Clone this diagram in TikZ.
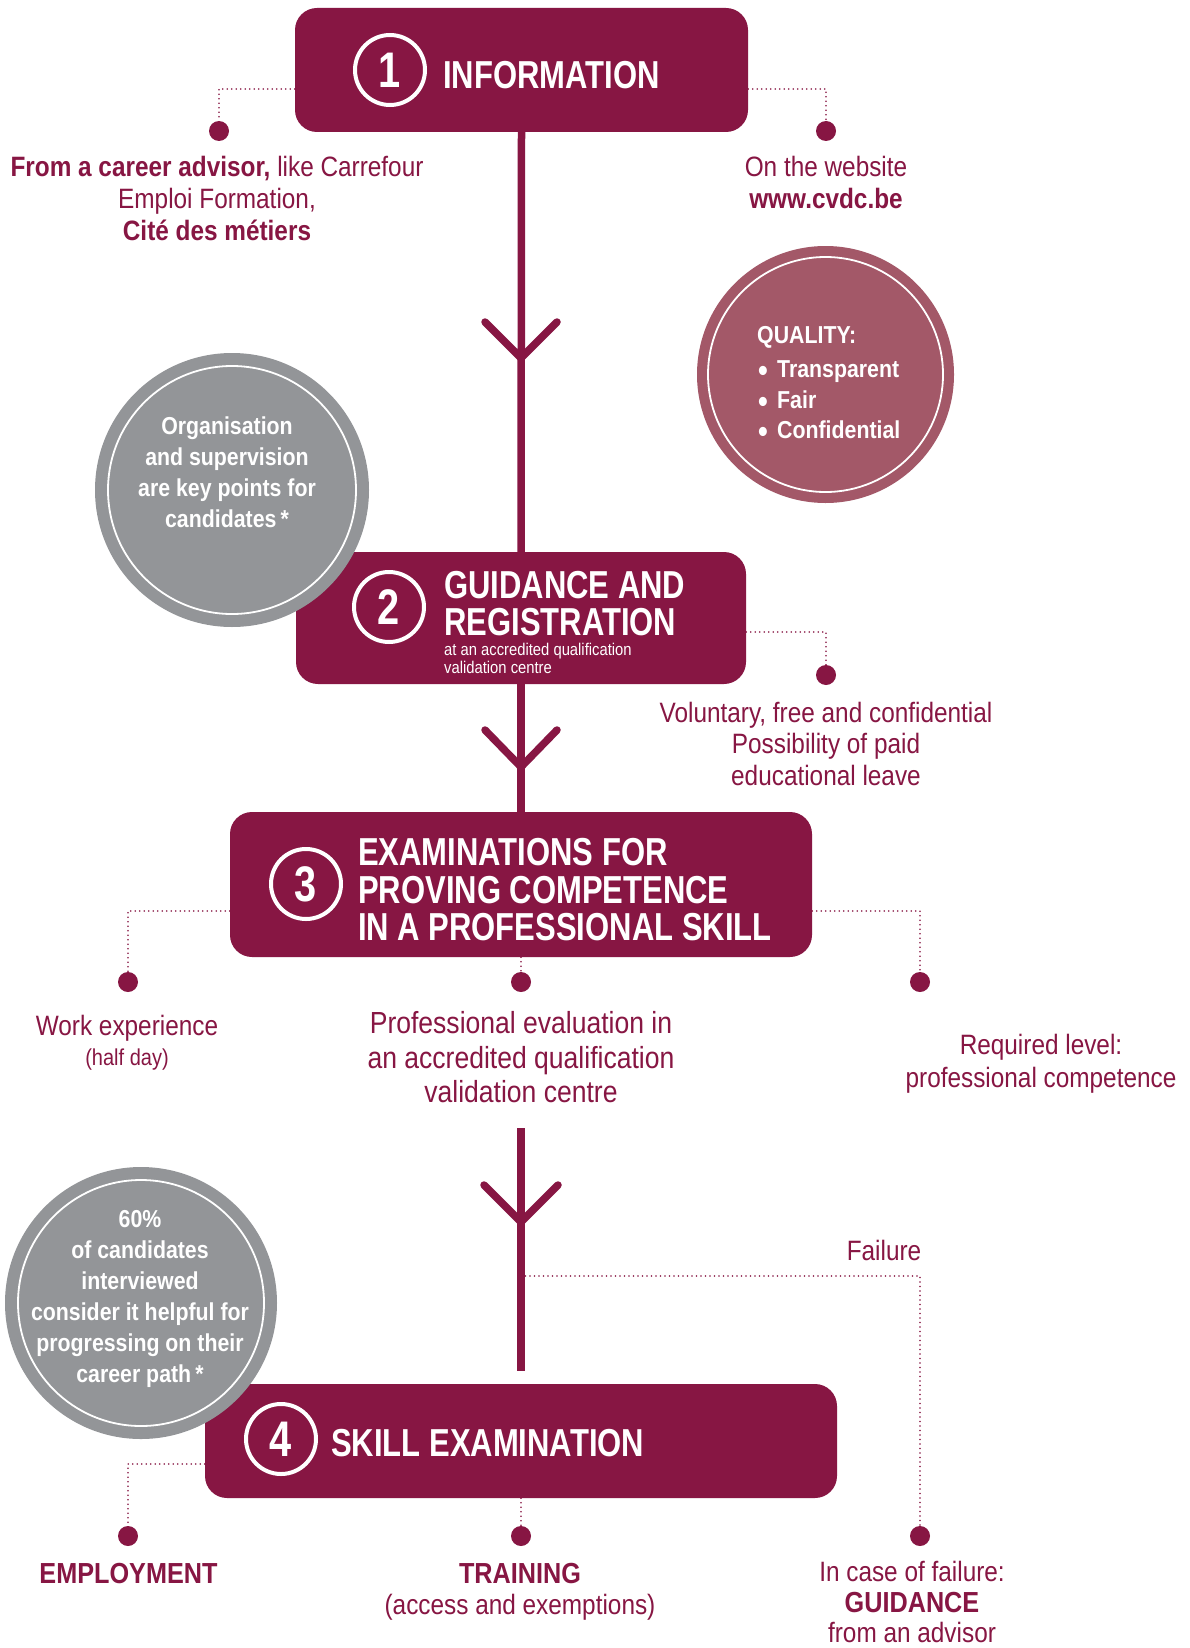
\documentclass[tikz,border=0pt]{standalone}
\usepackage{fontspec}
\setmainfont{Liberation Sans}[FakeStretch=0.87]
\newfontfamily\headfont{Liberation Sans}[FakeStretch=0.795]
\usetikzlibrary{calc}
\definecolor{maroon}{RGB}{135,22,67}
\definecolor{mauve}{RGB}{163,88,104}
\definecolor{greyc}{RGB}{147,149,152}
\newcommand{\qbul}{\makebox[19pt][l]{\raisebox{-4pt}[0pt][0pt]{\fontsize{32}{32}\selectfont •}}}
\tikzset{
  box/.style={rectangle, rounded corners=22pt, fill=maroon, inner sep=0pt},
  numc/.style={circle, draw=white, line width=4pt, minimum size=70pt, inner sep=0pt, text=white, font=\headfont\bfseries\fontsize{50}{50}\selectfont},
  head/.style={anchor=base west, inner sep=0pt, text=white, font=\headfont\bfseries\fontsize{39}{39}\selectfont},
  subt/.style={anchor=base west, inner sep=0pt, text=white, font=\fontsize{17}{18}\selectfont},
  body/.style={anchor=base, inner sep=0pt, text=maroon, font=\fontsize{28}{32}\selectfont},
  bodyb/.style={body, font=\bfseries\fontsize{29}{32}\selectfont},
  big/.style={body, font=\fontsize{30.5}{34}\selectfont},
  small/.style={body, font=\fontsize{23}{26}\selectfont},
  ctext/.style={anchor=base, inner sep=0pt, text=white, font=\bfseries\fontsize{24.5}{30}\selectfont},
  qtext/.style={ctext, anchor=base west},
  dotnode/.style={circle, fill=maroon, minimum size=20pt, inner sep=0pt},
  dotline/.style={draw=maroon, line width=1.8pt, line cap=round, dash pattern=on 0pt off 4.5pt},
  mainline/.style={draw=maroon, line width=7.5pt},
  chev/.style={draw=maroon, line width=7.5pt, line cap=round, line join=miter},
  ring/.style={draw=white, line width=1.8pt},
}
\begin{document}
\begin{tikzpicture}[x=1pt,y=-1pt]
\useasboundingbox (0,0) rectangle (1190,1648);
\fill[white] (0,0) rectangle (1190,1648);

% main vertical lines and chevrons
\coordinate (s3a) at (521,1128);
\coordinate (s3b) at (521,1371);
\coordinate (t1) at (521,358);
\coordinate (t2) at (521,767);
\coordinate (t3) at (521,1222);
\coordinate (fj) at (521,1276);

% boxes
\node[box, minimum width=453pt, minimum height=124pt] (box1) at (521.5,70) {};
\node[box, minimum width=450pt, minimum height=132pt] (box2) at (521,618) {};
\node[box, minimum width=582pt, minimum height=145pt] (box3) at (521,884.5) {};
\node[box, minimum width=632pt, minimum height=114pt] (box4) at (521,1441) {};

\draw[mainline] (box1.south) -- (box2.north);
\draw[mainline] (box2.south) -- (box3.north);
\draw[mainline] (s3a) -- (s3b);
\draw[chev] ($(t1)+(-36,-36)$) -- (t1) -- ($(t1)+(36,-36)$);
\draw[chev] ($(t2)+(-36,-37)$) -- (t2) -- ($(t2)+(36,-37)$);
\draw[chev] ($(t3)+(-37,-37)$) -- (t3) -- ($(t3)+(37,-37)$);

% dots
\node[dotnode] (dA) at (219,131) {};
\node[dotnode] (dB) at (826,131) {};
\node[dotnode] (dC) at (826,675) {};
\node[dotnode] (dD) at (128,982) {};
\node[dotnode] (dE) at (521,982) {};
\node[dotnode] (dF) at (920,982) {};
\node[dotnode] (dG) at (128,1536) {};
\node[dotnode] (dH) at (521,1536) {};
\node[dotnode] (dI) at (920,1536) {};

% dotted connectors
\draw[dotline] ([yshift=-19pt]box1.west) -| (dA.north);
\draw[dotline] ([yshift=-19pt]box1.east) -| (dB.north);
\draw[dotline] ([yshift=-14pt]box2.east) -| (dC.north);
\draw[dotline] ([yshift=-26.5pt]box3.west) -| (dD.north);
\draw[dotline] (box3.south) -- (dE.north);
\draw[dotline] ([yshift=-26.5pt]box3.east) -| (dF.north);
\draw[dotline] ([yshift=-23pt]box4.west) -| (dG.north);
\draw[dotline] (box4.south) -- (dH.north);
\draw[dotline] (fj) -| (dI.north);

% numbers and headings
\node[numc] (n1) at (390,70) {1};
\node[head] (h1) at (443,89) {INFORMATION};
\node[numc] (n2) at (389,607) {2};
\node[head] (h2a) at (444,598) {GUIDANCE AND};
\node[head] (h2b) at (444,635) {REGISTRATION};
\node[subt] (h2c) at (444,655) {at an accredited qualification};
\node[subt] (h2d) at (444,673) {validation centre};
\node[numc] (n3) at (306,884) {3};
\node[head] (h3a) at (358,865) {EXAMINATIONS FOR};
\node[head] (h3b) at (358,903) {PROVING COMPETENCE};
\node[head] (h3c) at (358,940) {IN A PROFESSIONAL SKILL};
\node[numc] (n4) at (281,1439) {4};
\node[head] (h4) at (331,1456) {SKILL EXAMINATION};

% quality circle
\node[circle, fill=mauve, minimum size=257pt, inner sep=0pt] (q) at (825.5,374.5) {};
\draw[ring] (q.center) circle[radius=117.5];
\node[qtext] (q0) at (757,343) {QUALITY:};
\node[qtext] (q1) at (758,377) {\qbul Transparent};
\node[qtext] (q2) at (758,408) {\qbul Fair};
\node[qtext] (q3) at (758,438) {\qbul Confidential};

% grey circle 1
\node[circle, fill=greyc, minimum size=274pt, inner sep=0pt] (g1) at (232,490) {};
\draw[ring] (g1.center) circle[radius=124];
\node[ctext] (g1a) at (227,434) {Organisation};
\node[ctext] (g1b) at (227,465) {and supervision};
\node[ctext] (g1c) at (227,496) {are key points for};
\node[ctext] (g1d) at (227,527) {candidates\,*};

% grey circle 2
\node[circle, fill=greyc, minimum size=272pt, inner sep=0pt] (g2) at (141,1303) {};
\draw[ring] (g2.center) circle[radius=123];
\node[ctext] (g2a) at (140,1227) {60\%};
\node[ctext] (g2b) at (140,1258) {of candidates};
\node[ctext] (g2c) at (140,1289) {interviewed};
\node[ctext] (g2d) at (140,1320) {consider it helpful for};
\node[ctext] (g2e) at (140,1351) {progressing on their};
\node[ctext] (g2f) at (140,1382) {career path\,*};

% texts
\node[body] (i1) at (217,177) {\textbf{From a career advisor,} like Carrefour};
\node[body] (i2) at (217,208) {Emploi Formation,};
\node[body] (i3) at (217,240) {\textbf{Cité des métiers}};
\node[body] (w1) at (826,177) {On the website};
\node[body] (w2) at (826,208) {\textbf{www.cvdc.be}};

\node[body] (v1) at (826,722) {Voluntary, free and confidential};
\node[body] (v2) at (826,753) {Possibility of paid};
\node[body] (v3) at (826,785) {educational leave};

\node[body] (we1) at (127,1035) {Work experience};
\node[small] (we2) at (127,1065) {(half day)};
\node[big] (pe1) at (521,1033) {Professional evaluation in};
\node[big] (pe2) at (521,1068) {an accredited qualification};
\node[big] (pe3) at (521,1102) {validation centre};
\node[body] (rl1) at (1041,1054) {Required level:};
\node[body] (rl2) at (1041,1087) {professional competence};

\node[body] (fl) at (884,1260) {Failure};

\node[bodyb] (em) at (128.5,1583) {EMPLOYMENT};
\node[bodyb] (tr1) at (520,1583) {TRAINING};
\node[body] (tr2) at (520,1614) {(access and exemptions)};
\node[body] (gu1) at (912,1581) {In case of failure:};
\node[bodyb] (gu2) at (912,1612) {GUIDANCE};
\node[body] (gu3) at (912,1642) {from an advisor};
\end{tikzpicture}
\end{document}
